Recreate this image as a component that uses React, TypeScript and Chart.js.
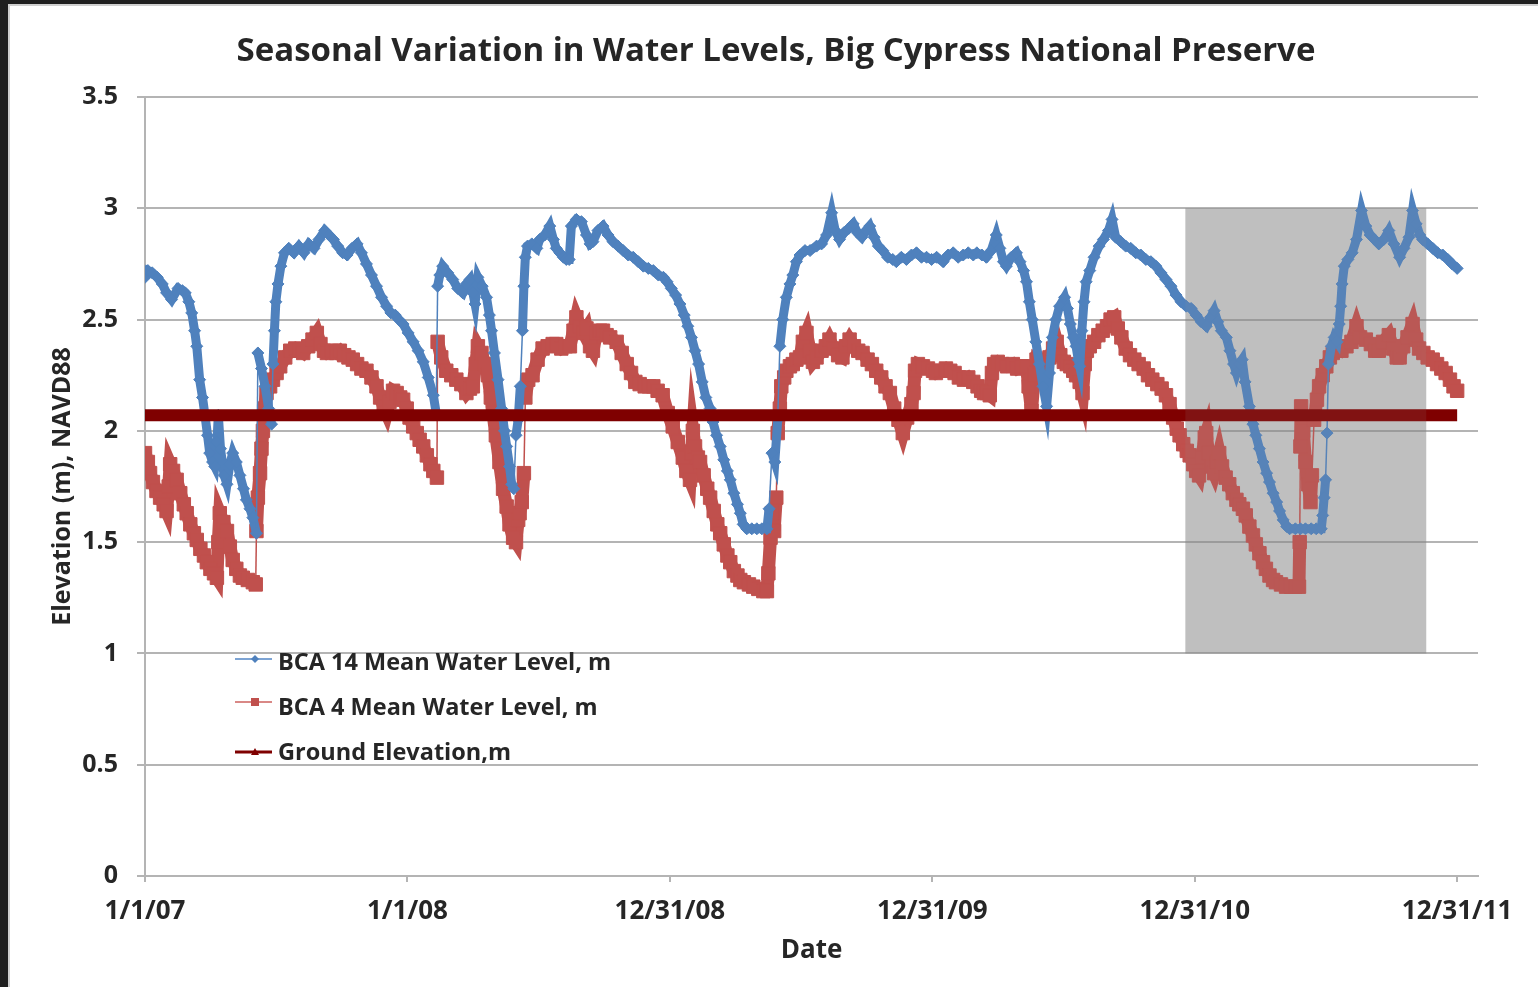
import React, { useEffect, useRef } from "react";
import { Chart, registerables } from "chart.js";

Chart.register(...registerables);

// ---- Data (x = days since 1/1/07) ----
const chartTitle = "Seasonal Variation in Water Levels, Big Cypress National Preserve";
const xAxisTitle = "Date";
const yAxisTitle = "Elevation (m), NAVD88";

const xTickDays = [0, 365, 730, 1095, 1460, 1825];
const xTickLabels = ["1/1/07", "1/1/08", "12/31/08", "12/31/09", "12/31/10", "12/31/11"];
const xMaxDay = 1854;
const yMin = 0;
const yMax = 3.5;
const yStep = 0.5;

const seriesNames = ["BCA 14 Mean Water Level, m", "BCA 4 Mean Water Level, m", "Ground Elevation,m"];

const bca14Days = [
  0, 4, 10, 17, 24, 30, 37, 46, 52, 56, 61, 65, 69, 72, 76, 80, 83, 87, 90, 94, 97, 100, 102, 105, 110, 114, 118, 122, 127, 132, 137, 141, 146, 150, 155,
  157, 162, 167, 172, 176, 178, 180, 182, 185, 189, 194, 200, 207, 214, 221, 228, 235, 242, 250, 256, 262, 268, 275, 281, 288, 295, 301, 308, 315, 322, 329,
  336, 342, 348, 353, 359, 366, 373, 380, 387, 394, 401, 405, 407, 410, 414, 421, 428, 435, 442, 447, 452, 456, 459, 463, 469, 475, 479, 482, 486, 491, 496,
  500, 503, 507, 510, 513, 516, 519, 522, 525, 527, 529, 532, 538, 545, 549, 556, 563, 568, 572, 577, 582, 586, 590, 593, 600, 607, 614, 619, 623, 630, 637,
  644, 651, 658, 665, 672, 679, 686, 693, 700, 707, 714, 721, 726, 732, 738, 744, 750, 755, 760, 765, 770, 775, 780, 786, 790, 795, 800, 805, 810, 814, 819,
  824, 828, 832, 837, 844, 851, 858, 865, 868, 872, 876, 880, 883, 887, 892, 897, 901, 906, 911, 918, 925, 934, 941, 948, 955, 960, 966, 972, 979, 985, 991,
  997, 1003, 1008, 1014, 1020, 1026, 1033, 1040, 1045, 1052, 1059, 1066, 1073, 1080, 1087, 1094, 1101, 1110, 1117, 1124, 1131, 1138, 1145, 1152, 1157, 1164,
  1170, 1177, 1184, 1189, 1194, 1198, 1205, 1212, 1217, 1222, 1226, 1230, 1234, 1239, 1244, 1249, 1254, 1258, 1262, 1267, 1272, 1279, 1283, 1287, 1291, 1295,
  1298, 1300, 1303, 1306, 1309, 1314, 1320, 1327, 1333, 1340, 1345, 1350, 1357, 1364, 1371, 1378, 1385, 1392, 1399, 1406, 1413, 1420, 1427, 1434, 1441, 1448,
  1455, 1462, 1469, 1476, 1482, 1487, 1492, 1497, 1504, 1509, 1514, 1518, 1522, 1526, 1530, 1536, 1541, 1545, 1550, 1555, 1560, 1564, 1569, 1574, 1578, 1583,
  1588, 1592, 1600, 1607, 1614, 1622, 1629, 1636, 1638, 1640, 1642, 1644, 1646, 1650, 1654, 1658, 1661, 1663, 1665, 1668, 1673, 1679, 1685, 1692, 1698, 1704,
  1710, 1716, 1723, 1730, 1737, 1745, 1751, 1758, 1763, 1768, 1773, 1777, 1784, 1791, 1798, 1805, 1812, 1818, 1825,
];
const bca14Levels = [
  2.69, 2.72, 2.71, 2.69, 2.66, 2.62, 2.59, 2.64, 2.63, 2.62, 2.58, 2.53, 2.45, 2.38, 2.23, 2.15, 2.08, 1.98, 1.9, 1.86, 1.84, 1.95, 2.07, 1.92, 1.8, 1.76, 1.85, 1.9, 1.86, 1.8, 1.74, 1.69, 1.65, 1.61, 1.54,
  2.35, 2.28, 2.2, 2.1, 2.03, 2.3, 2.45, 2.58, 2.66, 2.74, 2.8, 2.82, 2.8, 2.83, 2.8, 2.84, 2.82, 2.86, 2.9, 2.88, 2.86, 2.83, 2.8, 2.79, 2.82, 2.84, 2.8, 2.75, 2.7, 2.65, 2.6,
  2.56, 2.53, 2.52, 2.5, 2.48, 2.44, 2.4, 2.36, 2.31, 2.24, 2.16, 2.08, 2.65, 2.7, 2.74, 2.71, 2.68, 2.64, 2.62, 2.66, 2.68, 2.62, 2.57, 2.69, 2.65, 2.6, 2.52, 2.45, 2.35, 2.23, 2.1,
  2.0, 1.93, 1.84, 1.76, 1.74, 1.98, 2.05, 2.2, 2.45, 2.65, 2.78, 2.83, 2.84, 2.82, 2.86, 2.88, 2.92, 2.86, 2.82, 2.8, 2.78, 2.77, 2.77, 2.92, 2.95, 2.94, 2.88, 2.84, 2.85, 2.9, 2.92,
  2.88, 2.85, 2.83, 2.81, 2.79, 2.78, 2.76, 2.74, 2.73, 2.72, 2.7, 2.69, 2.67, 2.64, 2.61, 2.57, 2.52, 2.47, 2.42, 2.36, 2.3, 2.22, 2.15, 2.1, 2.04, 1.98, 1.93, 1.87, 1.82, 1.78, 1.72,
  1.67, 1.63, 1.58, 1.56, 1.56, 1.56, 1.56, 1.56, 1.65, 1.9, 1.86, 2.05, 2.38, 2.5, 2.6, 2.66, 2.7, 2.76, 2.79, 2.81, 2.81, 2.83, 2.84, 2.88, 2.98, 2.9, 2.86, 2.89, 2.91, 2.93, 2.89,
  2.87, 2.9, 2.92, 2.87, 2.83, 2.81, 2.78, 2.77, 2.76, 2.78, 2.77, 2.79, 2.8, 2.78, 2.78, 2.77, 2.78, 2.76, 2.79, 2.8, 2.78, 2.79, 2.8, 2.79, 2.8, 2.79,
  2.78, 2.81, 2.88, 2.82, 2.76, 2.74, 2.78, 2.8, 2.76, 2.72, 2.67, 2.58, 2.5, 2.4, 2.3, 2.2, 2.11, 2.26, 2.42, 2.5, 2.56, 2.6, 2.55, 2.48, 2.42, 2.38,
  2.32, 2.29, 2.45, 2.58, 2.67, 2.72, 2.78, 2.83, 2.86, 2.9, 2.95, 2.87, 2.85, 2.83, 2.82, 2.8, 2.79, 2.77, 2.76, 2.74, 2.71, 2.68, 2.65, 2.61, 2.58, 2.56,
  2.55, 2.52, 2.49, 2.47, 2.51, 2.54, 2.49, 2.45, 2.42, 2.36, 2.3, 2.26, 2.3, 2.32, 2.22, 2.11, 2.03, 1.98, 1.92, 1.86, 1.81, 1.77, 1.72, 1.68, 1.64, 1.6,
  1.57, 1.56, 1.56, 1.56, 1.56, 1.56, 1.56, 1.56, 1.62, 1.7, 1.78, 1.99, 2.3, 2.38, 2.42, 2.4, 2.48, 2.56, 2.66, 2.74, 2.77, 2.8, 2.86, 2.99, 2.92, 2.88,
  2.86, 2.84, 2.86, 2.9, 2.84, 2.78, 2.82, 2.87, 2.99, 2.93, 2.88, 2.86, 2.84, 2.82, 2.8, 2.79, 2.77, 2.75, 2.73,
];

const bca4Days = [
  0, 4, 7, 11, 16, 21, 26, 30, 33, 35, 39, 44, 49, 54, 58, 63, 68, 72, 77, 82, 86, 91, 96, 100, 102, 104, 109, 114, 118, 122, 127, 132, 136, 143, 150, 154,
  155, 157, 160, 162, 164, 166, 169, 174, 178, 183, 188, 195, 202, 209, 215, 220, 227, 233, 239, 244, 249, 253, 260, 266, 271, 277, 283, 289, 295, 301, 308,
  315, 322, 327, 332, 336, 340, 345, 350, 355, 359, 364, 368, 373, 378, 382, 387, 392, 397, 401, 406, 407, 412, 419, 426, 433, 440, 447, 452, 456, 460, 463,
  468, 473, 477, 481, 484, 488, 493, 498, 503, 507, 512, 516, 519, 521, 524, 527, 529, 533, 539, 546, 553, 560, 567, 572, 579, 585, 591, 596, 600, 605, 610,
  614, 619, 623, 628, 633, 637, 642, 647, 656, 663, 670, 676, 682, 688, 695, 701, 707, 713, 720, 727, 734, 741, 748, 753, 758, 760, 762, 765, 769, 772, 777,
  782, 786, 791, 796, 800, 805, 810, 814, 819, 824, 828, 833, 840, 846, 853, 860, 865, 867, 870, 872, 875, 878, 880, 883, 885, 889, 892, 897, 901, 906, 911,
  915, 920, 925, 929, 934, 941, 947, 952, 958, 964, 970, 975, 980, 986, 992, 998, 1005, 1011, 1017, 1024, 1030, 1036, 1042, 1048, 1054, 1060, 1066, 1069,
  1071, 1075, 1082, 1089, 1096, 1100, 1107, 1114, 1120, 1126, 1132, 1139, 1145, 1152, 1158, 1163, 1167, 1171, 1175, 1178, 1181, 1186, 1192, 1199, 1207, 1213,
  1219, 1226, 1229, 1233, 1237, 1240, 1245, 1251, 1258, 1263, 1268, 1273, 1278, 1282, 1287, 1291, 1295, 1300, 1304, 1307, 1310, 1314, 1320, 1326, 1332, 1338,
  1343, 1348, 1353, 1358, 1364, 1370, 1376, 1382, 1389, 1395, 1401, 1408, 1414, 1420, 1425, 1430, 1435, 1439, 1444, 1449, 1453, 1458, 1462, 1466, 1470, 1474,
  1476, 1479, 1483, 1487, 1491, 1494, 1498, 1503, 1508, 1513, 1518, 1522, 1527, 1531, 1536, 1541, 1545, 1550, 1555, 1559, 1564, 1569, 1573, 1580, 1587, 1594,
  1600, 1605, 1606, 1607, 1608, 1611, 1614, 1618, 1621, 1623, 1626, 1630, 1633, 1638, 1643, 1648, 1652, 1658, 1664, 1671, 1678, 1685, 1690, 1698, 1705, 1711,
  1716, 1722, 1730, 1736, 1741, 1745, 1750, 1756, 1763, 1768, 1772, 1778, 1784, 1791, 1797, 1803, 1809, 1815, 1820, 1825,
];
const bca4Levels = [
  1.9, 1.86, 1.81, 1.77, 1.73, 1.7, 1.67, 1.64, 1.75, 1.85, 1.82, 1.78, 1.72, 1.67, 1.63, 1.58, 1.54, 1.51, 1.47, 1.44, 1.41, 1.38, 1.36, 1.34, 1.5, 1.63, 1.59, 1.55, 1.48, 1.42, 1.38, 1.35, 1.34, 1.33, 1.32, 1.31,
  1.55, 1.7, 1.81, 1.92, 2.0, 2.1, 2.17, 2.2, 2.23, 2.26, 2.29, 2.33, 2.36, 2.37, 2.36, 2.35, 2.38, 2.41, 2.44, 2.39, 2.36, 2.35, 2.36, 2.35, 2.36, 2.34, 2.33, 2.32, 2.3, 2.28, 2.27,
  2.24, 2.2, 2.15, 2.11, 2.08, 2.13, 2.18, 2.17, 2.15, 2.14, 2.1, 2.06, 2.02, 1.99, 1.96, 1.93, 1.89, 1.85, 1.82, 1.79, 2.4, 2.33, 2.27, 2.25, 2.23, 2.21, 2.17, 2.19, 2.2, 2.3, 2.38,
  2.35, 2.3, 2.25, 2.15, 2.08, 1.98, 1.86, 1.74, 1.66, 1.58, 1.52, 1.5, 1.6, 1.63, 1.68, 1.81, 2.15, 2.23, 2.25, 2.32, 2.37, 2.38, 2.39, 2.39, 2.37, 2.38, 2.38, 2.45, 2.51, 2.47, 2.44,
  2.46, 2.38, 2.36, 2.44, 2.45, 2.45, 2.43, 2.42, 2.4, 2.35, 2.3, 2.26, 2.22, 2.21, 2.2, 2.2, 2.2, 2.18, 2.16, 2.08, 2.02, 1.95, 1.88, 1.82, 1.78, 1.9, 2.0, 1.93, 1.88, 1.86, 1.8,
  1.74, 1.7, 1.64, 1.58, 1.54, 1.49, 1.44, 1.41, 1.37, 1.35, 1.33, 1.32, 1.31, 1.3, 1.29, 1.28, 1.28, 1.36, 1.52, 1.63, 1.55, 1.7, 1.99, 2.1, 2.2, 2.24, 2.27, 2.29, 2.3, 2.32, 2.33,
  2.4, 2.44, 2.36, 2.31, 2.33, 2.36, 2.38, 2.41, 2.37, 2.34, 2.33, 2.38, 2.41, 2.38, 2.36, 2.35, 2.32, 2.3, 2.27, 2.24, 2.2, 2.17, 2.1, 2.05, 1.99, 2.06, 2.12, 2.17,
  2.27, 2.3, 2.29, 2.28, 2.27, 2.26, 2.27, 2.28, 2.27, 2.26, 2.24, 2.23, 2.24, 2.22, 2.2, 2.18, 2.17, 2.17, 2.16, 2.26, 2.3, 2.31, 2.3, 2.29, 2.3, 2.28,
  2.29, 2.29, 2.2, 2.09, 2.25, 2.32, 2.31, 2.3, 2.33, 2.37, 2.4, 2.34, 2.31, 2.3, 2.29, 2.27, 2.25, 2.22, 2.17, 2.3, 2.36, 2.38, 2.4, 2.43, 2.45, 2.47,
  2.5, 2.51, 2.46, 2.42, 2.37, 2.34, 2.32, 2.3, 2.28, 2.25, 2.23, 2.21, 2.19, 2.16, 2.12, 2.06, 2.01, 1.98, 1.94, 1.91, 1.89, 1.85, 1.82, 1.8, 1.88, 1.97,
  1.99, 1.9, 1.84, 1.81, 1.86, 1.9, 1.84, 1.79, 1.76, 1.72, 1.69, 1.67, 1.65, 1.62, 1.57, 1.53, 1.49, 1.45, 1.41, 1.38, 1.35, 1.33, 1.32, 1.31, 1.3, 1.3,
  1.3, 1.3, 1.5, 1.93, 2.11, 2.0, 1.86, 1.76, 1.68, 1.8, 2.05, 2.14, 2.2, 2.25, 2.29, 2.33, 2.35, 2.37, 2.36, 2.38, 2.4, 2.47, 2.42, 2.41, 2.39, 2.36,
  2.36, 2.4, 2.43, 2.37, 2.33, 2.33, 2.38, 2.42, 2.48, 2.41, 2.37, 2.35, 2.33, 2.32, 2.3, 2.28, 2.26, 2.23, 2.2, 2.18,
];

const groundDays = [0, 1825];
const groundLevels = [2.07, 2.07];

// shaded period
const shadeStartDay = 1447;
const shadeEndDay = 1782;
const shadeLow = 1;
const shadeHigh = 3;

const FONT = "'Open Sans', 'DejaVu Sans', sans-serif";
const TEXT = "#262626";
const BLUE = "#4f81bd";
const RED = "#c0504d";
const GROUND = "#7f0000";
const GRID = "#b4b4b4";

function toPoints(xs: number[], ys: number[]) {
  return xs.map((x, i) => ({ x, y: ys[i] }));
}

const shadePlugin = {
  id: "shade",
  beforeDatasetsDraw(chart: any) {
    const { ctx, scales } = chart;
    const x0 = scales.x.getPixelForValue(shadeStartDay);
    const x1 = scales.x.getPixelForValue(shadeEndDay);
    const y0 = scales.y.getPixelForValue(shadeHigh);
    const y1 = scales.y.getPixelForValue(shadeLow);
    ctx.save();
    ctx.fillStyle = "rgba(128,128,128,0.46)";
    ctx.fillRect(x0, y0, x1 - x0, y1 - y0);
    ctx.restore();
  },
  afterDatasetsDraw(chart: any) {
    const { ctx, scales } = chart;
    const x0 = scales.x.getPixelForValue(shadeStartDay);
    const x1 = scales.x.getPixelForValue(shadeEndDay);
    const y0 = scales.y.getPixelForValue(shadeHigh);
    const y1 = scales.y.getPixelForValue(shadeLow);
    ctx.save();
    ctx.fillStyle = "rgba(150,150,150,0.12)";
    ctx.fillRect(x0, y0, x1 - x0, y1 - y0);
    ctx.restore();
  },
};

const textPlugin = {
  id: "texts",
  afterDraw(chart: any) {
    const { ctx, chartArea } = chart;
    ctx.save();
    // title
    ctx.fillStyle = TEXT;
    ctx.font = `bold 33px ${FONT}`;
    ctx.textAlign = "center";
    ctx.textBaseline = "middle";
    ctx.fillText(chartTitle, 766, 46);

    // legend
    const lx0 = chartArea.left + 90;
    const lx1 = chartArea.left + 127;
    const mx = chartArea.left + 110;
    const tx = chartArea.left + 133;
    const rows = [
      { ly: 653, ty: 657, color: "#7da4d4", mcolor: BLUE, style: "diamond", w: 2 },
      { ly: 696, ty: 702, color: "#d98886", mcolor: RED, style: "square", w: 2 },
      { ly: 746, ty: 747, color: GROUND, mcolor: GROUND, style: "triangle", w: 3 },
    ];
    rows.forEach((r, i) => {
      ctx.strokeStyle = r.color;
      ctx.lineWidth = r.w;
      ctx.beginPath();
      ctx.moveTo(lx0, r.ly);
      ctx.lineTo(lx1, r.ly);
      ctx.stroke();
      ctx.fillStyle = r.mcolor;
      ctx.beginPath();
      if (r.style === "diamond") {
        ctx.moveTo(mx, r.ly - 4);
        ctx.lineTo(mx + 4, r.ly);
        ctx.lineTo(mx, r.ly + 4);
        ctx.lineTo(mx - 4, r.ly);
      } else if (r.style === "square") {
        ctx.rect(mx - 4, r.ly - 4, 8, 8);
      } else {
        ctx.moveTo(mx, r.ly - 4);
        ctx.lineTo(mx + 4, r.ly + 3);
        ctx.lineTo(mx - 4, r.ly + 3);
      }
      ctx.closePath();
      ctx.fill();
      ctx.fillStyle = TEXT;
      ctx.font = `bold 23.5px ${FONT}`;
      ctx.textAlign = "left";
      ctx.textBaseline = "middle";
      ctx.fillText(seriesNames[i], tx, r.ty);
    });
    ctx.restore();
  },
};

function segWidth(thick: number) {
  return (c: any) => (Math.abs(c.p1.parsed.y - c.p0.parsed.y) > 0.2 ? 1.5 : thick);
}

export default function App() {
  const ref = useRef<HTMLCanvasElement | null>(null);

  useEffect(() => {
    if (!ref.current) return;
    const chart = new Chart(ref.current, {
      type: "line",
      data: {
        datasets: [
          {
            label: seriesNames[2],
            data: toPoints(groundDays, groundLevels),
            borderColor: GROUND,
            backgroundColor: GROUND,
            borderWidth: 12,
            pointRadius: 0,
            borderCapStyle: "butt",
            order: 0,
          },
          {
            label: seriesNames[0],
            data: toPoints(bca14Days, bca14Levels),
            borderColor: BLUE,
            backgroundColor: BLUE,
            borderWidth: 9,
            pointStyle: "rectRot",
            pointRadius: 6,
            pointBorderWidth: 1,
            pointBorderColor: BLUE,
            pointBackgroundColor: BLUE,
            segment: { borderWidth: segWidth(9) },
            order: 1,
          },
          {
            label: seriesNames[1],
            data: toPoints(bca4Days, bca4Levels),
            borderColor: RED,
            backgroundColor: RED,
            borderWidth: 13,
            pointStyle: "rect",
            pointRadius: 9.5,
            pointBorderWidth: 1,
            pointBorderColor: RED,
            pointBackgroundColor: RED,
            segment: { borderWidth: segWidth(13) },
            order: 2,
          },
        ],
      },
      options: {
        animation: false,
        responsive: false,
        layout: { padding: { top: 91, right: 60, left: 0, bottom: 0 } },
        plugins: {
          legend: { display: false },
          title: { display: false },
          tooltip: { enabled: false },
        },
        scales: {
          x: {
            type: "linear",
            min: 0,
            max: xMaxDay,
            afterFit: (s: any) => {
              s.height = 111;
            },
            afterBuildTicks: (s: any) => {
              s.ticks = xTickDays.map((v) => ({ value: v }));
            },
            ticks: {
              autoSkip: false,
              maxRotation: 0,
              padding: 14,
              color: TEXT,
              font: { family: FONT, size: 26, weight: "bold" },
              callback: (v: any) => {
                const i = xTickDays.indexOf(Number(v));
                return i >= 0 ? xTickLabels[i] : "";
              },
            },
            grid: { drawOnChartArea: false, drawTicks: true, tickLength: 6, color: GRID, lineWidth: 2 },
            border: { display: true, color: GRID, width: 2 },
            title: {
              display: true,
              text: xAxisTitle,
              color: TEXT,
              font: { family: FONT, size: 26, weight: "bold" },
              padding: { top: 0, bottom: 21 },
            },
          },
          y: {
            min: yMin,
            max: yMax,
            afterFit: (s: any) => {
              s.width = 135;
            },
            ticks: {
              stepSize: yStep,
              padding: 19,
              color: TEXT,
              font: { family: FONT, size: 25, weight: "bold" },
              callback: (v: any) => String(Number(v)),
            },
            grid: { color: GRID, lineWidth: 2, tickLength: 8 },
            border: { display: true, color: GRID, width: 2 },
            title: {
              display: true,
              text: yAxisTitle,
              color: TEXT,
              font: { family: FONT, size: 25, weight: "bold" },
              padding: { top: 38, bottom: 0 },
            },
          },
        },
      },
      plugins: [shadePlugin, textPlugin],
    });
    return () => chart.destroy();
  }, []);

  return (
    <div style={{ position: "fixed", left: 0, top: 0, width: 1538, height: 987, background: "#1f1f1f", overflow: "hidden" }}>
      <div
        style={{
          position: "absolute",
          left: 8,
          top: 4,
          width: 1530,
          height: 983,
          background: "#ffffff",
          borderLeft: "2px solid #cfcfcf",
          borderTop: "2px solid #cfcfcf",
          boxSizing: "border-box",
        }}
      >
        <canvas ref={ref} width={1528} height={981} style={{ display: "block" }} />
      </div>
    </div>
  );
}
